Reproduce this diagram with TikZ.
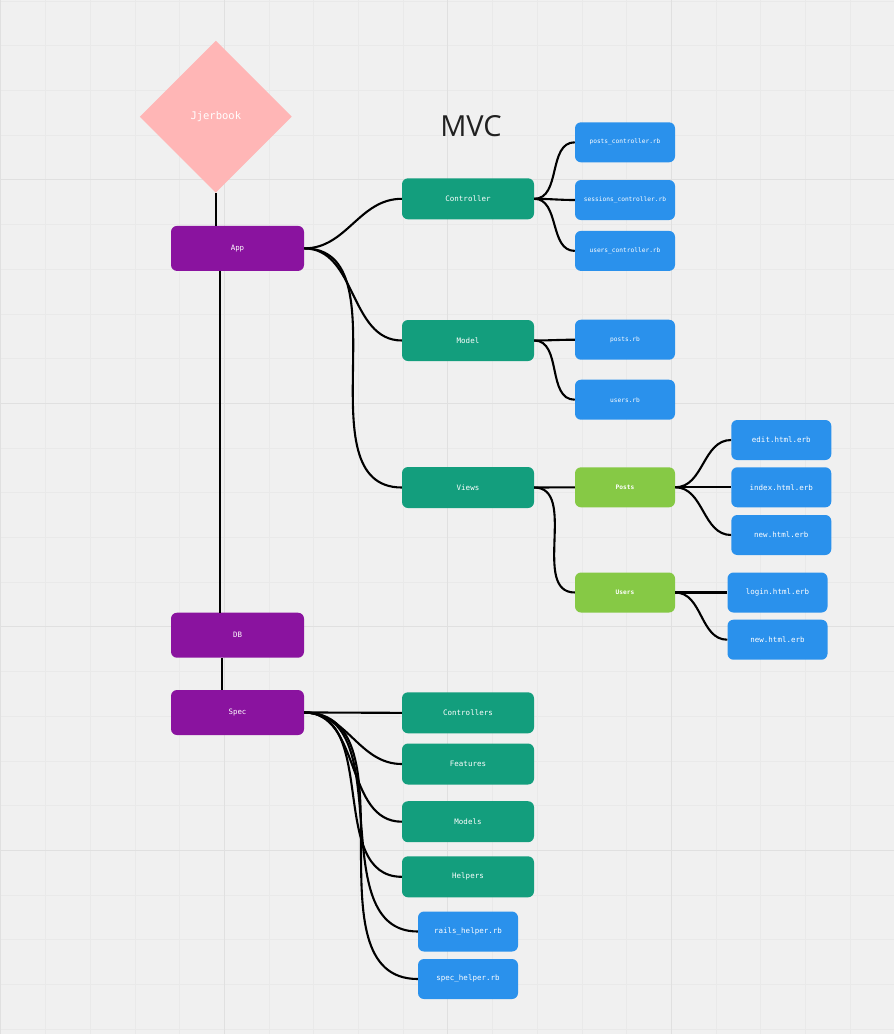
\documentclass[tikz,border=0pt]{standalone}
\usepackage{fontspec}
\setmonofont{DejaVu Sans Mono}
\newfontfamily\titlefont{Open Sans}
\usepackage{tikz}
\usetikzlibrary{shapes.geometric}

\definecolor{bgcol}{HTML}{F0F0F0}
\definecolor{gridminor}{HTML}{E9E9E9}
\definecolor{gridmajor}{HTML}{E0E0E0}
\definecolor{rootpink}{HTML}{FFB6B6}
\definecolor{toppurple}{HTML}{8A139F}
\definecolor{midteal}{HTML}{139E7D}
\definecolor{fileblue}{HTML}{2A91EC}
\definecolor{subgreen}{HTML}{86C945}

\begin{document}
\begin{tikzpicture}[x=1pt,y=-1pt,
    box/.style={rounded corners=6pt, text=white, inner sep=0pt},
    topbox/.style={box, fill=toppurple, minimum width=133pt, minimum height=45pt, font=\ttfamily\fontsize{7.4}{9}\selectfont},
    midbox/.style={box, fill=midteal, minimum width=132pt, minimum height=41pt, font=\ttfamily\fontsize{7.5}{9}\selectfont},
    filebox/.style={box, fill=fileblue, minimum width=100pt, minimum height=40pt, font=\ttfamily\fontsize{7.5}{9}\selectfont},
    smallfile/.style={filebox, font=\ttfamily\fontsize{6.2}{8}\selectfont},
    subbox/.style={box, fill=subgreen, minimum width=100pt, minimum height=40pt, font=\ttfamily\bfseries\fontsize{6.2}{8}\selectfont},
    link/.style={-, draw=black, line width=2.1pt, out=0, in=180},
    trunk/.style={-, draw=black, line width=2.1pt}]
  \useasboundingbox (0,0) rectangle (894,1034);
  \fill[bgcol] (0,0) rectangle (894,1034);
  % grid
  \foreach \i in {0,...,19} {\draw[gridminor, line width=0.8pt] ({0.8+44.7*\i},0) -- ({0.8+44.7*\i},1034);}
  \foreach \i in {0,...,23} {\draw[gridminor, line width=0.8pt] (0,{1+44.7*\i}) -- (894,{1+44.7*\i});}
  \foreach \i in {0,...,3} {\draw[gridmajor, line width=1pt] ({0.8+223.5*\i},0) -- ({0.8+223.5*\i},1034);}
  \foreach \i in {0,...,3} {\draw[gridmajor, line width=1pt] (0,{179.8+223.5*\i}) -- (894,{179.8+223.5*\i});}

  \node[shape=diamond, fill=rootpink, text=white, minimum width=152pt, minimum height=152pt, inner sep=0pt, font=\ttfamily\fontsize{10.5}{12}\selectfont] (J) at (215.8,116.7) {Jjerbook};
  \node[text=black!87, font=\titlefont\fontsize{29}{32}\selectfont] (MVC) at (471,126) {MVC};

  \node[topbox] (App) at (237.5,248.4) {App};
  \node[topbox] (DB) at (237.5,635.2) {DB};
  \node[topbox] (Spec) at (237.5,712.5) {Spec};

  \node[midbox] (Ctrl) at (468,198.8) {Controller};
  \node[midbox] (Model) at (468,340.5) {Model};
  \node[midbox] (Views) at (468,487.5) {Views};

  \node[smallfile] (PC) at (625,142.3) {posts\_controller.rb};
  \node[smallfile] (SC) at (625,200) {sessions\_controller.rb};
  \node[smallfile] (UC) at (625,250.9) {users\_controller.rb};
  \node[smallfile] (PM) at (625,339.7) {posts.rb};
  \node[smallfile] (UM) at (625,399.7) {users.rb};

  \node[subbox] (Posts) at (625,487.3) {Posts};
  \node[subbox] (Users) at (625,592.5) {Users};
  \node[filebox] (PE) at (781.3,440) {edit.html.erb};
  \node[filebox] (PI) at (781.3,487.3) {index.html.erb};
  \node[filebox] (PN) at (781.3,535) {new.html.erb};
  \node[filebox] (UL) at (777.5,592.5) {login.html.erb};
  \node[filebox] (UN) at (777.5,639.7) {new.html.erb};

  \node[midbox] (SCt) at (468,712.8) {Controllers};
  \node[midbox] (SF) at (468,764) {Features};
  \node[midbox] (SM) at (468,821.7) {Models};
  \node[midbox] (SH) at (468,876.8) {Helpers};
  \node[filebox] (RH) at (468,931.5) {rails\_helper.rb};
  \node[filebox] (SpH) at (468,979) {spec\_helper.rb};

  \path[trunk] (J.south) edge (J.south |- App.north);
  \path[trunk] ([xshift=-17.5pt]App.south) edge ([xshift=-17.5pt]DB.north);
  \path[trunk] ([xshift=-15.5pt]DB.south) edge ([xshift=-15.5pt]Spec.north);

  \path[link] (App.east) edge (Ctrl.west) edge (Model.west) edge (Views.west);
  \path[link] (Ctrl.east) edge (PC.west) edge (SC.west) edge (UC.west);
  \path[link] (Model.east) edge (PM.west) edge (UM.west);
  \path[link] (Views.east) edge (Posts.west) edge (Users.west);
  \path[link] (Posts.east) edge (PE.west) edge (PI.west) edge (PN.west);
  \path[link] (Users.east) edge (UL.west) edge (UN.west);
  \path[link] (Spec.east) edge (SCt.west) edge (SF.west) edge (SM.west)
    edge (SH.west) edge (RH.west) edge (SpH.west);
\end{tikzpicture}
\end{document}
